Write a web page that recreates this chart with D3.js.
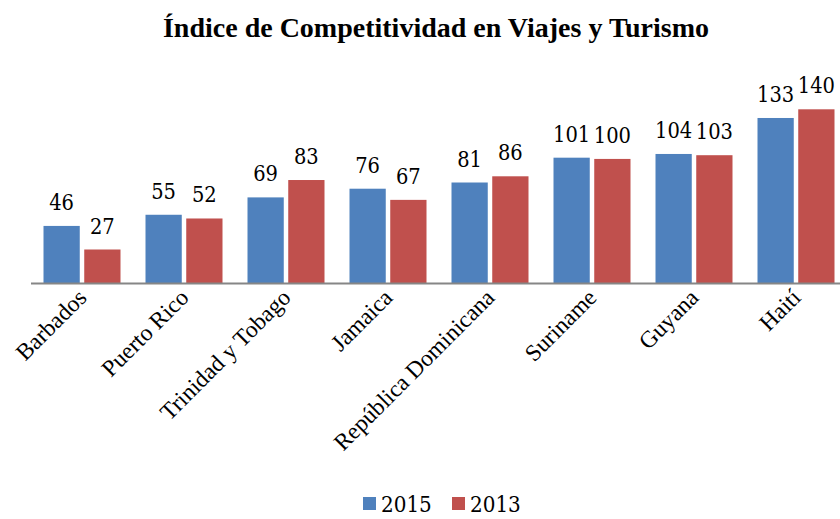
<!DOCTYPE html>
<html><head><meta charset="utf-8">
<script src="https://cdn.jsdelivr.net/npm/d3@7"></script>
<style>body{margin:0;background:#fff}svg{display:block}
text{font-family:"Liberation Serif","Times New Roman",serif;}
text.num{font-family:"DejaVu Serif",serif;}
</style>
</head><body>
<script>
const categories = ["Barbados","Puerto Rico","Trinidad y Tobago","Jamaica","República Dominicana","Suriname","Guyana","Haití"];
const seriesNames = ["2015","2013"];
const values2015 = [46,55,69,76,81,101,104,133];
const values2013 = [27,52,83,67,86,100,103,140];
const colors = ["#4F81BD","#C0504D"];
const title = "Índice de Competitividad en Viajes y Turismo";

const W = 840, H = 519;
const svg = d3.select("body").append("svg").attr("width",W).attr("height",H);

const x0 = d3.scaleBand().domain(categories).range([31,847]).paddingInner(0).paddingOuter(0);
const x1 = d3.scaleBand().domain(seriesNames).range([12.5, 102-12.5]).paddingInner(0.11);
const y = d3.scaleLinear().domain([0,140]).range([283,109.3]);

svg.append("text").attr("x",436).attr("y",37).attr("text-anchor","middle")
  .attr("font-weight","bold").attr("font-size",28).text(title);

const data = categories.map((c,i)=>({cat:c, vals:[values2015[i],values2013[i]]}));
const g = svg.append("g");
const groups = g.selectAll("g.grp").data(data).join("g").attr("transform",d=>`translate(${x0(d.cat)},0)`);
groups.selectAll("rect").data(d=>d.vals.map((v,j)=>({s:seriesNames[j],v,j}))).join("rect")
  .attr("x",d=>x1(d.s)).attr("width",x1.bandwidth())
  .attr("y",d=>y(d.v)).attr("height",d=>y(0)-y(d.v))
  .attr("fill",d=>colors[d.j]);
groups.selectAll("text.num").data(d=>d.vals.map((v,j)=>({s:seriesNames[j],v,j}))).join("text")
  .attr("class","num")
  .attr("x",d=>x1(d.s)+x1.bandwidth()/2).attr("y",d=>y(d.v)-16)
  .attr("text-anchor","middle").attr("font-size",23).attr("fill","#000")
  .attr("textLength",d=>String(d.v).length*12.4).attr("lengthAdjust","spacingAndGlyphs")
  .text(d=>String(d.v));

// axis
const axis = d3.axisBottom(x0).tickSize(0).tickPadding(0);
const ax = svg.append("g").attr("transform","translate(0,283)").call(axis);
ax.attr("font-family",null);
ax.select(".domain").attr("stroke","#868686").attr("stroke-width",2).attr("d","M31,0.5H847");
ax.selectAll(".tick text").attr("font-size",23.5).attr("fill","#000")
  .attr("text-anchor","end").attr("dy",null).attr("y",null)
  .attr("transform","translate(6,16) rotate(-45)");

// legend
const leg = svg.append("g");
const legItems = [{n:seriesNames[0],c:colors[0],x:363},{n:seriesNames[1],c:colors[1],x:452}];
legItems.forEach(it=>{
  leg.append("rect").attr("x",it.x).attr("y",497).attr("width",13).attr("height",13).attr("fill",it.c);
  leg.append("text").attr("class","num").attr("x",it.x+18).attr("y",512).attr("font-size",23)
    .attr("textLength",it.n.length*12.7).attr("lengthAdjust","spacingAndGlyphs")
    .attr("fill","#000").text(it.n);
});
</script>
</body></html>
